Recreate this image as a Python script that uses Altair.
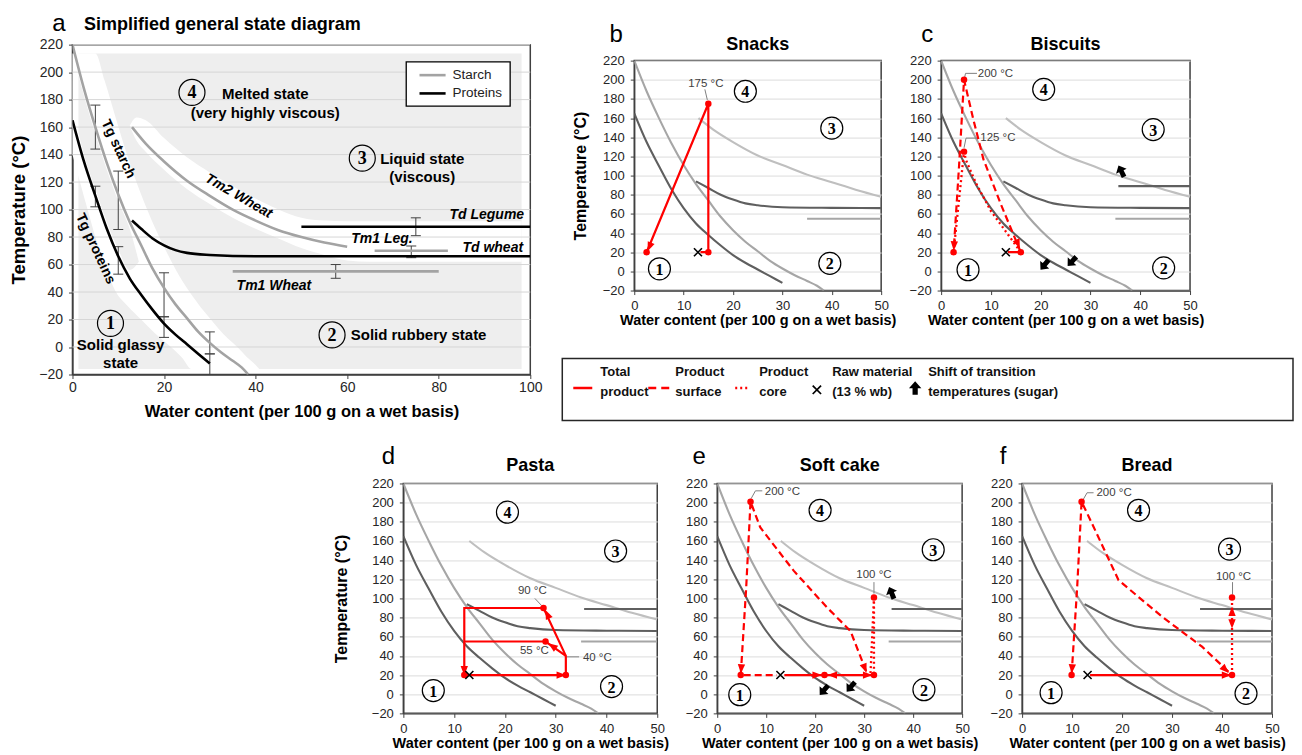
import math
import altair as alt
import pandas as pd

FONT = "Liberation Sans"
SERIF = "Liberation Serif"
NARROW = "Liberation Sans Narrow, Liberation Sans"
RED = "#ff0000"
DARK = "#404040"
BG_GRAY = "#eeeeee"

X_TITLE = "Water content (per 100 g on a wet basis)"
Y_TITLE = "Temperature (°C)"

temp_ticks = [-20, 0, 20, 40, 60, 80, 100, 120, 140, 160, 180, 200, 220]
water_ticks_a = [0, 20, 40, 60, 80, 100]
water_ticks_small = [0, 10, 20, 30, 40, 50]

# ---------------- panel a : general state diagram ----------------
tg_starch_x = [0, 2.5, 5, 7.5, 10, 12.5, 15, 17.5, 20, 22.5, 25, 27.5, 30, 32.5, 35, 37, 38.4]
tg_starch_T = [220, 188, 160, 134, 111, 91, 74, 57, 43, 31, 21, 11, 3, -4, -10, -15, -20]
tg_prot_x = [0, 2.5, 5, 7.5, 10, 12.5, 15, 17.5, 20, 22.5, 25, 27.5, 30]
tg_prot_T = [165, 135, 110, 86, 66, 50, 38, 27, 17, 9, 2, -5, -12]
tm2_x = [13, 16, 20, 25, 30, 35, 40, 45, 50, 55, 60]
tm2_T = [160, 148, 135, 121, 110, 100, 92, 85, 80, 76, 73]
td_wheat_x = [13, 15, 17.5, 20, 22.5, 25, 30, 40, 100]
td_wheat_T = [92, 86, 79, 74, 70.5, 68.5, 67, 66, 66]
td_legume_x = [50, 100]
td_legume_T = [87.5, 87.5]
tm1_wheat_x = [35, 80]
tm1_wheat_T = [55, 55]
tm1_leg_x = [66, 82]
tm1_leg_T = [70, 70]

err_x = [5, 10, 20, 30, 5, 10, 20, 30, 57.5, 74, 75]
err_low = [144, 85.5, 22, -5, 102, 53, 7, -20, 50, 65, 81]
err_high = [176, 128, 54, 11, 117, 73, 22, -5, 60, 73.5, 94]

# background shading (light gray field with white transition bands)
bg_box = {"x": [1.3], "x2": [98.1], "T": [-16], "T2": [213.5]}
band_tg_x = [0, 1.8, 3.3, 5, 7, 9.5, 12, 15, 18, 21.5, 24, 26, 28, 30, 32, 34, 36, 38, 40, 40.8]
band_tg_low = [140, 118, 100, 80, 60, 40, 30, 20, 10, 0, -8, -16, -16, -16, -16, -16, -16, -16, -16, -16]
band_tg_high = [213.5, 213.5, 213.5, 213.5, 194, 166, 139, 111, 87, 63, 48, 38, 29, 21, 13, 6, 0, -7, -13, -16]
wedge_x = [1.3, 2.5, 5, 7.5, 10, 12.5, 14.5]
wedge_low = [156, 140, 115, 91, 71, 56, 62]
wedge_high = [198, 183, 155, 129, 106, 86, 62]
band_tm2_x = [12.5, 14, 16, 20, 25, 30, 35, 40, 45, 50, 55, 60, 65, 98.1]
band_tm2_low = [161, 150, 142, 129, 115, 104, 94, 86, 79, 72, 67, 63, 62, 62]
band_tm2_high = [161, 167, 165, 152, 138, 127, 117, 108, 100, 94, 92, 91.5, 91.5, 91.5]

a_region_text = ["Melted state", "(very highly viscous)", "Liquid state", "(viscous)",
                 "Solid rubbery state", "Solid glassy", "state"]
a_region_x = [42.1, 42.1, 76.4, 76.4, 75.6, 10.5, 10.5]
a_region_T = [183.8, 170.5, 137, 123.7, 8.8, 1.5, -11.8]

a_curve_labels = [
    ("Tg starch", 10, 144, 65, "normal"),
    ("Tg proteins", 5, 71.5, 65, "normal"),
    ("Tm2 Wheat", 36.3, 109.7, 30, "italic"),
    ("Td Legume", 90.5, 96.4, 0, "italic"),
    ("Tm1 Leg.", 67.6, 78.3, 0, "italic"),
    ("Td wheat", 91.8, 72, 0, "italic"),
    ("Tm1 Wheat", 44, 44.5, 0, "italic"),
]
a_circles_x = [8.3, 56.7, 63.3, 26.1]
a_circles_T = [17.2, 8.8, 137.4, 185.2]

a_legend_box = {"x": [72.9], "x2": [95.6], "T": [175.3], "T2": [207.4]}
a_legend_names = ["Starch", "Proteins"]
a_legend_T = [197.8, 184.5]
a_legend_line_x = [75.8, 81.5]
a_legend_text_x = 83.0

# ---------------- small panels : common transition curves ----------------
s_tm2_x = [13, 16, 20, 25, 30, 35, 40, 45, 50]
s_tm2_T = [160, 148, 135, 121, 111, 101, 93, 85, 78]
s_tdw_x = [12.5, 15, 17.5, 20, 22.5, 25, 30, 40, 50]
s_tdw_T = [94, 87, 80, 75, 71, 69, 67, 66.3, 66]
s_tm1_x = [35, 50]
s_tm1_T = [55, 55]
s_tdl_x = [35.6, 50]
s_tdl_T = [89, 89]

# ---------------- b : Snacks ----------------
snacks_solid = [[(13.4, 20), (15, 20), (15, 175), (2.5, 20)]]
snacks_dashed = []
snacks_dotted = []
snacks_dots = [(15, 20), (15, 175), (2.5, 20)]
snacks_arrows = [((15, 175), (3.1, 26))]
snacks_raw = [(12.9, 20)]
snacks_labels = [("175 °C", 14.5, 196)]
snacks_leaders = [[(14.3, 190), (14.8, 179)]]
snacks_sugar = []
snacks_circles = [(5.1, 2.7), (39.6, 8.3), (40, 149.5), (22.5, 188)]

# ---------------- c : Biscuits ----------------
biscuits_solid = [[(13.4, 20), (16, 20)]]
biscuits_dashed = [[(16, 20), (12, 70), (8.5, 117), (6.4, 160), (4.6, 200), (3.6, 110), (2.5, 20)]]
biscuits_dotted = [[(16, 20), (13.5, 38), (10, 63), (7, 92), (5, 116), (4.6, 125), (3.5, 70), (2.5, 20)]]
biscuits_dots = [(16, 20), (4.6, 200), (4.6, 125), (2.5, 20)]
biscuits_arrows = [((3.5, 110), (2.6, 27)), ((12, 70), (15.4, 29))]
biscuits_raw = [(13, 20)]
biscuits_labels = [("200 °C", 10.9, 206.5), ("125 °C", 11.4, 139)]
biscuits_leaders = [[(7.2, 206.7), (4.9, 206.7), (4.7, 202)], [(7.5, 139.1), (5.0, 139.1), (4.6, 129)]]
biscuits_sugar = [((37, 96), (36.2, 104.5)), ((21.6, 12), (20.8, 7)), ((27.1, 15), (26.3, 10.5))]
biscuits_circles = [(5.4, 1.7), (44.7, 3.7), (42.6, 148), (20.6, 190)]

# ---------------- d : Pasta ----------------
pasta_solid = [[(12, 20), (32, 20), (32, 40), (27.6, 90), (12, 90), (12, 20)],
               [(32, 40), (28, 55), (12, 55)]]
pasta_dashed = []
pasta_dotted = []
pasta_dots = [(32, 20), (27.6, 90), (28, 55), (12, 20)]
pasta_arrows = [((12, 20), (31, 20)), ((32, 40), (28.4, 83)), ((32, 40), (29.4, 50)), ((12, 90), (12, 25))]
pasta_raw = [(13, 20)]
pasta_labels = [("90 °C", 25.4, 107.3), ("55 °C", 25.8, 45), ("40 °C", 38.2, 38.3)]
pasta_leaders = [[(25.9, 100), (27.2, 92.7)], [(34.6, 39), (32.2, 39)]]
pasta_sugar = []
pasta_circles = [(5.9, 3.8), (41, 8), (41.8, 149.5), (20.5, 190)]

# ---------------- e : Soft cake ----------------
cake_solid = [[(13.7, 20), (32, 20)]]
cake_dashed = [[(30.4, 24), (27.2, 66), (22.4, 90.6), (15.6, 129), (8.8, 174), (6.8, 201),
                (5.9, 110), (4.8, 20), (12.2, 20)]]
cake_dotted = [[(31.3, 22), (32, 101), (32, 20)]]
cake_dots = [(6.8, 201), (4.8, 20), (21.9, 20), (32, 20), (32, 101)]
cake_arrows = [((13.7, 20), (20.3, 20)), ((32, 20), (23.6, 20)), ((22, 20), (30.6, 20)),
               ((5.9, 110), (4.9, 27)), ((27.2, 66), (30.1, 27.5))]
cake_raw = [(12.9, 20)]
cake_labels = [("200 °C", 13.3, 211.3), ("100 °C", 32, 124.7)]
cake_leaders = [[(9.2, 212.3), (7.8, 212.3), (6.9, 204)], [(32, 117), (32, 105)]]
cake_sugar = [((36.3, 97), (35.6, 105.6)), ((22.6, 9), (21.8, 4.3)), ((28.1, 12.5), (27.3, 7.8))]
cake_circles = [(4.6, -0.5), (42.2, 4.7), (44.1, 150.8), (21, 192)]

# ---------------- f : Bread ----------------
bread_solid = [[(13.6, 20), (42, 20)]]
bread_dashed = [[(41.3, 23.5), (36, 49.6), (28, 80.9), (19.3, 119), (14, 178), (11.9, 201),
                 (11, 110), (9.9, 20)]]
bread_dotted = [[(42, 20), (42, 101)]]
bread_dots = [(9.9, 20), (11.9, 201), (42, 20), (42, 101)]
bread_arrows = [((13.6, 20), (40.8, 20)), ((11, 110), (10, 27)), ((36, 49.6), (40.6, 26)),
                ((42, 20), (42, 86)), ((42, 101), (42, 74))]
bread_raw = [(13.1, 20)]
bread_labels = [("200 °C", 18.4, 209.6), ("100 °C", 42.3, 122.6)]
bread_leaders = [[(14.3, 210.3), (13, 210.3), (12.2, 203)], [(42.1, 117), (42.1, 104)]]
bread_sugar = []
bread_circles = [(5.8, 1.6), (44.8, 0.9), (41.5, 151.5), (23.3, 192)]

# ---------------- bottom-right legend ----------------
leg_line_dash = [[1, 0], [8, 5], [2, 3]]
leg_line_x0 = [11, 86, 173]
leg_line_x1 = [30, 108, 188]
leg_line_y = 29.5
leg_text_top = ["Total", "Product", "Product", "Raw material", "Shift of transition"]
leg_text_bot = ["product", "surface", "core", "(13 % wb)", "temperatures (sugar)"]
leg_text_x = [38, 113, 197, 270, 366]
leg_text_y = [13.7, 33.7]
leg_cross = (254.7, 31.3)
leg_arrow = (353, 29.7)

# ---------------- shapes ----------------
ARROW_RED = "M0,-1L0.7,0.8L-0.7,0.8Z"
ARROW_BLOCK = "M0,-1L0.9,0L0.38,0L0.38,0.95L-0.38,0.95L-0.38,0L-0.9,0Z"
CROSS = "M-1,-1L1,1M-1,1L1,-1"


def line_df(xs, ts):
    return pd.DataFrame({"x": xs, "T": ts, "i": list(range(len(xs)))})


def paths_df(paths):
    rows = []
    for pid, pts in enumerate(paths):
        for i, (x, t) in enumerate(pts):
            rows.append({"x": x, "T": t, "pid": pid, "i": i})
    return pd.DataFrame(rows)


def angles_df(pairs, ppx, ppt):
    rows = []
    for (x0, t0), (x1, t1) in pairs:
        dx = (x1 - x0) * ppx
        dy = -(t1 - t0) * ppt
        ang = math.degrees(math.atan2(dx, -dy)) % 360
        rows.append({"x": x1, "T": t1, "ang": ang})
    return pd.DataFrame(rows)


def make_xy(xdomain, xticks, xtitle_size, ytitle, ytitle_size, label_size, xlabel_pad,
            ytitle_pad, xtitle_pad, grid):
    X = alt.X("x:Q", scale=alt.Scale(domain=xdomain, nice=False, zero=False),
              axis=alt.Axis(values=xticks, title=X_TITLE, titleFontSize=xtitle_size,
                            titlePadding=xtitle_pad, labelFontSize=label_size,
                            labelPadding=xlabel_pad, grid=False))
    Y = alt.Y("T:Q", scale=alt.Scale(domain=[-20, 220], nice=False, zero=False),
              axis=alt.Axis(values=temp_ticks, title=ytitle, titleFontSize=ytitle_size,
                            titlePadding=ytitle_pad, labelFontSize=label_size,
                            labelPadding=6, grid=grid, gridColor="#dcdcdc", gridWidth=1))
    return X, Y


def fixed_text(txt, dx, dy, size, weight, align):
    return alt.Chart(pd.DataFrame({"t": [txt]})).mark_text(
        font=FONT, fontSize=size, fontWeight=weight, align=align, baseline="middle", color="black"
    ).encode(x=alt.value(dx), y=alt.value(dy), text="t:N")


def circled_layers(pts, X, Y, size, fsize):
    df = pd.DataFrame({"x": [p[0] for p in pts], "T": [p[1] for p in pts],
                       "n": [str(i + 1) for i in range(len(pts))]})
    ring = alt.Chart(df).mark_point(shape="circle", size=size, filled=False, color="black",
                                    strokeWidth=1.2, opacity=1).encode(x=X, y=Y)
    num = alt.Chart(df).mark_text(font=SERIF, fontWeight="bold", fontSize=fsize, align="center",
                                  baseline="middle", dy=1, color="black").encode(x=X, y=Y, text="n:N")
    return [ring, num]


# ---------------- panel a ----------------
def panel_a():
    W, H = 458, 330
    X, Y = make_xy([0, 100], water_ticks_a, 16.5, Y_TITLE, 18.5, 14, 2, 10, 9, False)
    L = []
    L.append(alt.Chart(pd.DataFrame(bg_box)).mark_rect(color=BG_GRAY).encode(
        x=X, x2=alt.X2("x2:Q"), y=Y, y2=alt.Y2("T2:Q")))
    for xs, lo, hi, col in [(band_tg_x, band_tg_low, band_tg_high, "white"),
                            (wedge_x, wedge_low, wedge_high, BG_GRAY),
                            (band_tm2_x, band_tm2_low, band_tm2_high, "white")]:
        L.append(alt.Chart(pd.DataFrame({"x": xs, "T": lo, "T2": hi})).mark_area(
            color=col, orient="vertical", interpolate="monotone", opacity=1).encode(
            x=X, y=Y, y2=alt.Y2("T2:Q")))
    L.append(alt.Chart(pd.DataFrame({"T": temp_ticks[1:]})).mark_rule(
        color="#d6d6d6", strokeWidth=1).encode(y=Y))
    edf = pd.DataFrame({"x": err_x, "T": err_low, "T2": err_high})
    L.append(alt.Chart(edf).mark_rule(color=DARK, strokeWidth=1).encode(x=X, y=Y, y2=alt.Y2("T2:Q")))
    cdf = pd.DataFrame({"x": err_x + err_x, "T": err_low + err_high})
    L.append(alt.Chart(cdf).mark_point(shape="stroke", size=100, color=DARK, strokeWidth=1,
                                       opacity=1).encode(x=X, y=Y))
    starch_col, prot_col = "#a3a3a3", "#000000"
    for xs, ts, col in [(tm1_wheat_x, tm1_wheat_T, starch_col), (tm1_leg_x, tm1_leg_T, starch_col),
                        (tm2_x, tm2_T, starch_col), (tg_starch_x, tg_starch_T, starch_col),
                        (td_legume_x, td_legume_T, prot_col), (td_wheat_x, td_wheat_T, prot_col),
                        (tg_prot_x, tg_prot_T, prot_col)]:
        L.append(alt.Chart(line_df(xs, ts)).mark_line(color=col, strokeWidth=2.6,
                                                      interpolate="monotone", clip=True).encode(
            x=X, y=Y, order="i:Q"))
    rdf = pd.DataFrame({"x": a_region_x, "T": a_region_T, "t": a_region_text})
    L.append(alt.Chart(rdf).mark_text(font=FONT, fontSize=15, fontWeight="bold", color="black",
                                      align="center", baseline="middle").encode(x=X, y=Y, text="t:N"))
    for txt, x, t, ang, style in a_curve_labels:
        L.append(alt.Chart(pd.DataFrame({"x": [x], "T": [t], "t": [txt]})).mark_text(
            font=FONT, fontSize=14, fontWeight="bold", fontStyle=style, angle=ang, color="black",
            align="center", baseline="middle").encode(x=X, y=Y, text="t:N"))
    L += circled_layers(list(zip(a_circles_x, a_circles_T)), X, Y, 676, 18)
    L.append(alt.Chart(pd.DataFrame(a_legend_box)).mark_rect(
        fill="white", stroke="black", strokeWidth=1.3).encode(
        x=X, x2=alt.X2("x2:Q"), y=Y, y2=alt.Y2("T2:Q")))
    ldf = pd.DataFrame({"x": [a_legend_line_x[0]] * 2, "x2": [a_legend_line_x[1]] * 2,
                        "T": a_legend_T, "m": a_legend_names})
    L.append(alt.Chart(ldf).mark_rule(strokeWidth=2.6).encode(
        x=X, x2=alt.X2("x2:Q"), y=Y,
        color=alt.Color("m:N", scale=alt.Scale(domain=a_legend_names, range=[starch_col, prot_col]),
                        legend=None)))
    tdf = pd.DataFrame({"x": [a_legend_text_x] * 2, "T": a_legend_T, "t": a_legend_names})
    L.append(alt.Chart(tdf).mark_text(font=FONT, fontSize=13.5, align="left", baseline="middle",
                                      color="#222222").encode(x=X, y=Y, text="t:N"))
    L.append(fixed_text("a", -13.5, -21, 24, "normal", "center"))
    L.append(fixed_text("Simplified general state diagram", 11.5, -19.5, 18, "bold", "left"))
    return alt.layer(*L).properties(width=W, height=H)


# ---------------- small panels ----------------
def small_panel(title, letter, ldx, width, ytitle, ytitle_pad, solid, dashed, dotted, dots,
                arrows, raw, labels, leaders, sugar, circles, legume, title_dy):
    H = 230
    ppx, ppt = width / 50.0, H / 240.0
    X, Y = make_xy([0, 50], water_ticks_small, 14.5, ytitle, 16, 13, 5, ytitle_pad, 1, True)
    L = []
    curves = [(tg_prot_x, tg_prot_T, "#5f5f5f"), (tg_starch_x, tg_starch_T, "#a6a6a6"),
              (s_tm2_x, s_tm2_T, "#bfbfbf"), (s_tdw_x, s_tdw_T, "#5f5f5f"),
              (s_tm1_x, s_tm1_T, "#a6a6a6")]
    if legume:
        curves.append((s_tdl_x, s_tdl_T, "#5f5f5f"))
    for xs, ts, col in curves:
        L.append(alt.Chart(line_df(xs, ts)).mark_line(color=col, strokeWidth=2.1,
                                                      interpolate="monotone", clip=True).encode(
            x=X, y=Y, order="i:Q"))
    for lst in leaders:
        L.append(alt.Chart(line_df([p[0] for p in lst], [p[1] for p in lst])).mark_line(
            color="#808080", strokeWidth=1).encode(x=X, y=Y, order="i:Q"))
    for paths, dash, sw in [(solid, None, 2.2), (dashed, [7, 4], 2.2), (dotted, [2, 3], 2.3)]:
        if not paths:
            continue
        kw = dict(color=RED, strokeWidth=sw, clip=True)
        if dash:
            kw["strokeDash"] = dash
        L.append(alt.Chart(paths_df(paths)).mark_line(**kw).encode(
            x=X, y=Y, detail="pid:N", order="i:Q"))
    if arrows:
        L.append(alt.Chart(angles_df(arrows, ppx, ppt)).mark_point(
            shape=ARROW_RED, size=110, filled=True, color=RED, opacity=1).encode(
            x=X, y=Y, angle=alt.Angle("ang:Q", scale=None)))
    if sugar:
        L.append(alt.Chart(angles_df(sugar, ppx, ppt)).mark_point(
            shape=ARROW_BLOCK, size=170, filled=True, color="black", opacity=1).encode(
            x=X, y=Y, angle=alt.Angle("ang:Q", scale=None)))
    L.append(alt.Chart(pd.DataFrame({"x": [p[0] for p in dots], "T": [p[1] for p in dots]})).mark_circle(
        size=42, color=RED, opacity=1).encode(x=X, y=Y))
    L.append(alt.Chart(pd.DataFrame({"x": [p[0] for p in raw], "T": [p[1] for p in raw]})).mark_point(
        shape=CROSS, size=64, filled=False, color="black", strokeWidth=1.6, opacity=1).encode(x=X, y=Y))
    ldf = pd.DataFrame({"x": [l[1] for l in labels], "T": [l[2] for l in labels],
                        "t": [l[0] for l in labels]})
    L.append(alt.Chart(ldf).mark_text(font=FONT, fontSize=11.5, color="#404040", align="center",
                                      baseline="middle").encode(x=X, y=Y, text="t:N"))
    L += circled_layers(circles, X, Y, 484, 16)
    L.append(fixed_text(letter, ldx, -26, 24, "normal", "center"))
    L.append(fixed_text(title, width / 2.0, title_dy, 18, "bold", "center"))
    return alt.layer(*L).properties(width=width, height=H)


def legend_panel():
    W, H = 731, 62
    LX = alt.X("lx:Q", scale=alt.Scale(domain=[0, W], nice=False, zero=False), axis=None)
    LY = alt.Y("ly:Q", scale=alt.Scale(domain=[0, H], nice=False, zero=False, reverse=True), axis=None)
    L = []
    for x0, x1, dash in zip(leg_line_x0, leg_line_x1, leg_line_dash):
        L.append(alt.Chart(pd.DataFrame({"lx": [x0], "lx2": [x1], "ly": [leg_line_y]})).mark_rule(
            color=RED, strokeWidth=2.6, strokeDash=dash).encode(x=LX, x2=alt.X2("lx2:Q"), y=LY))
    tdf = pd.DataFrame({"lx": leg_text_x + leg_text_x,
                        "ly": [leg_text_y[0]] * 5 + [leg_text_y[1]] * 5,
                        "t": leg_text_top + leg_text_bot})
    L.append(alt.Chart(tdf).mark_text(font=NARROW, fontSize=13, fontWeight="bold", color="#111111",
                                      align="left", baseline="middle").encode(x=LX, y=LY, text="t:N"))
    L.append(alt.Chart(pd.DataFrame({"lx": [leg_cross[0]], "ly": [leg_cross[1]]})).mark_point(
        shape=CROSS, size=70, filled=False, color="black", strokeWidth=1.7, opacity=1).encode(x=LX, y=LY))
    L.append(alt.Chart(pd.DataFrame({"lx": [leg_arrow[0]], "ly": [leg_arrow[1]]})).mark_point(
        shape=ARROW_BLOCK, size=190, filled=True, color="black", opacity=1).encode(x=LX, y=LY))
    return alt.layer(*L).properties(width=W, height=H,
                                    view=alt.ViewBackground(stroke="#262626", strokeWidth=1.5))


def spacer(w, h):
    return alt.Chart(pd.DataFrame({"v": [0]})).mark_point(opacity=0).encode(
        x=alt.X("v:Q", axis=None), y=alt.Y("v:Q", axis=None)
    ).properties(width=w, height=h, view=alt.ViewBackground(strokeOpacity=0))


pa = panel_a()
pb = small_panel("Snacks", "b", -18, 247, Y_TITLE, 14, snacks_solid, snacks_dashed, snacks_dotted,
                 snacks_dots, snacks_arrows, snacks_raw, snacks_labels, snacks_leaders, snacks_sugar,
                 snacks_circles, False, -16)
pc = small_panel("Biscuits", "c", -14, 249, "", 14, biscuits_solid, biscuits_dashed, biscuits_dotted,
                 biscuits_dots, biscuits_arrows, biscuits_raw, biscuits_labels, biscuits_leaders,
                 biscuits_sugar, biscuits_circles, True, -16)
pd_ = small_panel("Pasta", "d", -15, 254, Y_TITLE, 22, pasta_solid, pasta_dashed, pasta_dotted,
                  pasta_dots, pasta_arrows, pasta_raw, pasta_labels, pasta_leaders, pasta_sugar,
                  pasta_circles, True, -17)
pe = small_panel("Soft cake", "e", -18, 245, "", 14, cake_solid, cake_dashed, cake_dotted, cake_dots,
                 cake_arrows, cake_raw, cake_labels, cake_leaders, cake_sugar, cake_circles, True, -17)
pf = small_panel("Bread", "f", -19, 250, "", 14, bread_solid, bread_dashed, bread_dotted, bread_dots,
                 bread_arrows, bread_raw, bread_labels, bread_leaders, bread_sugar, bread_circles,
                 True, -17)

# flush layout: nested concat groups count as zero height, so spacers carry their heights
brow = alt.hconcat(spacer(72, 10), alt.hconcat(pb, pc, spacing=60, bounds="flush"),
                   spacing=0, bounds="flush")
right_col = alt.vconcat(spacer(10, 16), brow, spacer(10, 230 + 68), legend_panel(),
                        spacing=0, bounds="flush")
row1 = alt.hconcat(pa, right_col, spacing=32, bounds="flush")
row2 = alt.hconcat(spacer(331, 10), alt.hconcat(pd_, pe, pf, spacing=60, bounds="flush"),
                   spacing=0, bounds="flush")

chart = alt.vconcat(row1, spacer(10, 439), row2, spacing=0, bounds="flush").properties(
    padding={"left": 0.5, "top": 2.5, "right": 0, "bottom": 0}
).configure(font=FONT).configure_view(
    stroke=DARK, strokeWidth=1.5
).configure_axis(
    labelFont=FONT, titleFont=FONT, titleFontWeight="bold", titleColor="black",
    labelColor="#262626", domainColor=DARK, domainWidth=1.3, tickColor=DARK, tickSize=4,
    labelFlush=False, labelOverlap=False
)

chart.save("out.html", embed_options={"renderer": "svg", "actions": False})
